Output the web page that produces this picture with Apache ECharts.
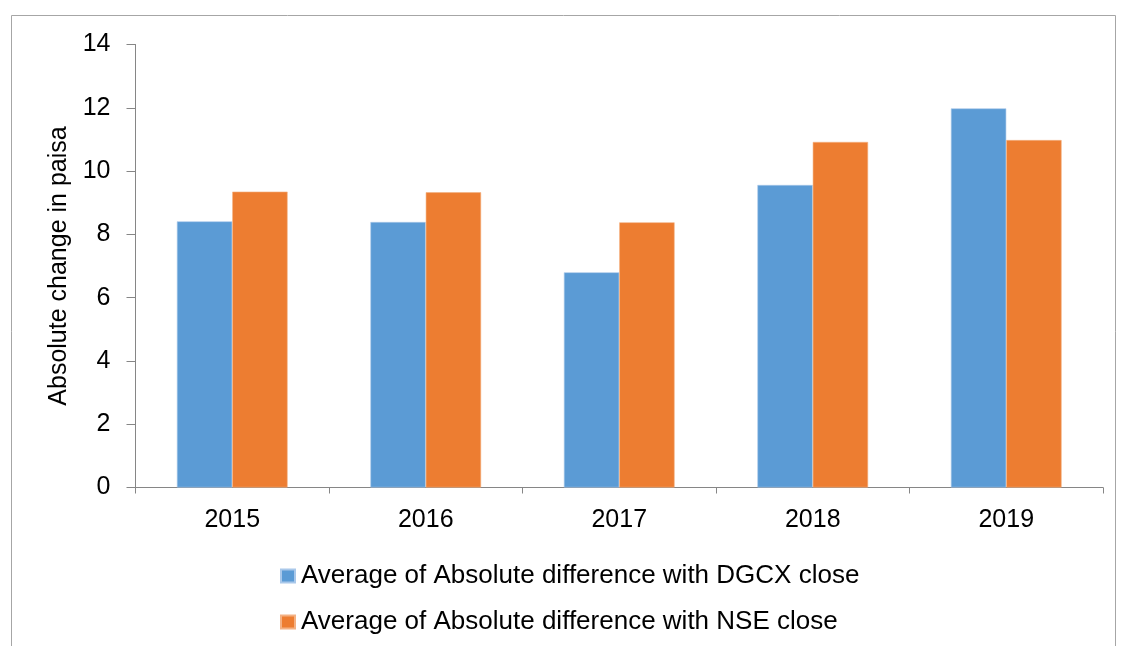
<!DOCTYPE html>
<html>
<head>
<meta charset="utf-8">
<script src="https://cdn.jsdelivr.net/npm/echarts@6/dist/echarts.min.js"></script>
<style>
  html, body { margin: 0; padding: 0; background: #fff; }
  #chart { width: 1121px; height: 646px; }
</style>
</head>
<body>
<div id="chart"></div>
<script>
  // data
  const years = ['2015', '2016', '2017', '2018', '2019'];
  const dgcxValues = [8.41, 8.39, 6.80, 9.56, 11.98];
  const nseValues = [9.35, 9.33, 8.38, 10.92, 10.98];
  const seriesNames = [
    'Average of Absolute difference with DGCX close',
    'Average of Absolute difference with NSE close'
  ];

  const font = '"Liberation Sans", Arial, sans-serif';
  const axisGrey = '#868686';

  const myChart = echarts.init(document.getElementById('chart'));
  const option = {
    animation: false,
    color: ['#5B9BD5', '#ED7D31'],
    textStyle: { fontFamily: font },
    graphic: [
      {
        type: 'rect',
        shape: { x: 11.5, y: 15.5, width: 1104, height: 700 },
        style: { fill: 'none', stroke: '#a6a6a6', lineWidth: 1 },
        silent: true
      }
    ],
    grid: {
      left: 135.5,
      right: 18,
      top: 44.5,
      bottom: 158.5
    },
    legend: {
      orient: 'vertical',
      left: 275,
      top: 558,
      itemGap: 20,
      itemWidth: 14,
      itemHeight: 13,
      icon: 'rect',
      textStyle: { fontSize: 26, color: '#000', fontFamily: font, padding: [0, 0, 0, 1] },
      data: seriesNames
    },
    xAxis: {
      type: 'category',
      data: years,
      axisLine: { lineStyle: { color: axisGrey, width: 1 } },
      axisTick: { show: true, length: 6, lineStyle: { color: axisGrey } },
      axisLabel: { fontSize: 25, color: '#000', margin: 20, fontFamily: font },
      splitLine: { show: false }
    },
    yAxis: {
      type: 'value',
      min: 0,
      max: 14,
      interval: 2,
      name: 'Absolute change in paisa',
      nameLocation: 'middle',
      nameGap: 62,
      nameTextStyle: { fontSize: 25, color: '#000', fontFamily: font },
      axisLine: { show: true, lineStyle: { color: axisGrey, width: 1 } },
      axisTick: { show: true, length: 9, lineStyle: { color: axisGrey } },
      axisLabel: { fontSize: 25, color: '#000', margin: 25, fontFamily: font },
      splitLine: { show: false }
    },
    series: [
      {
        name: seriesNames[0],
        type: 'bar',
        data: dgcxValues,
        barWidth: '28.6%',
        barGap: '0%',
        itemStyle: { borderColor: '#a9c8ea', borderWidth: 0.6 }
      },
      {
        name: seriesNames[1],
        type: 'bar',
        data: nseValues,
        barWidth: '28.6%',
        barGap: '0%',
        itemStyle: { borderColor: '#f4b183', borderWidth: 0.6 }
      }
    ]
  };
  myChart.setOption(option);
</script>
</body>
</html>
